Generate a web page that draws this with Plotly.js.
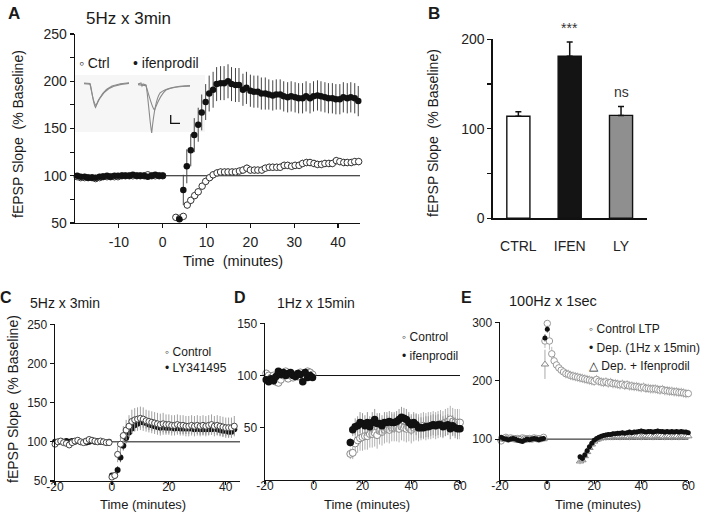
<!DOCTYPE html>
<html><head><meta charset="utf-8">
<script src="https://cdn.plot.ly/plotly-3.0.1.min.js"></script>
<style>html,body{margin:0;padding:0;background:#fff}#chart{width:705px;height:514px}</style>
</head><body><div id="chart"></div>
<script>
// ---------------- Panel A : 5Hz x 3min, Ctrl vs ifenprodil ----------------
const A_base_t = [-19.5,-18.7,-17.8,-17,-16.1,-15.3,-14.4,-13.6,-12.7,-11.9,-11,-10.2,-9.3,-8.5,-7.6,-6.8,-5.9,-5.1,-4.2,-3.4,-2.5,-1.7,-0.8,0];
const A_ctrl_base = [99,98,98,98,98,97,98,99,99,99,99,99,100,100,100,100,100,100,100,101,100,100,100,100];
const A_ifen_base = [100,99,99,98,98,98,99,99,100,99,100,100,100,100,100,101,100,100,100,99,100,101,100,100];
const A_base_err = [2,2,2,2,2,2,2,2,2,2,2,2,2,2,2,2,2,2,2,2,2,2,2,2];
const A_ctrl_t = [3,3.9,4.7,5.6,6.4,7.3,8.1,9,9.8,10.7,11.5,12.4,13.2,14.1,14.9,15.8,16.6,17.5,18.3,19.2,20,20.9,21.7,22.6,23.4,24.3,25.1,26,26.8,27.7,28.5,29.4,30.2,31.1,31.9,32.8,33.6,34.5,35.3,36.2,37,37.9,38.7,39.6,40.4,41.3,42.1,43,43.8,44.7];
const A_ctrl_v = [56,55,57,69,74,79,83,89,94,98,101,103,104,104,104,104,104,105,106,108,106,106,106,106,108,109,109,109,109,111,111,110,111,111,113,114,114,113,112,112,113,113,113,116,115,114,114,114,115,115];
const A_ctrl_e = [3,3,3,4,4,4,4,4,4,4,4,4,4,4,4,4,4,4,4,4,4,4,4,4,4,4,4,4,4,4,4,4,4,4,4,4,4,4,4,4,4,4,4,4,4,4,4,4,4,4];
const A_ifen_t = [3.8,4.7,5.5,6.4,7.2,8.1,8.9,9.8,10.6,11.5,12.3,13.2,14,14.9,15.7,16.6,17.4,18.3,19.1,20,20.8,21.7,22.5,23.4,24.2,25.1,25.9,26.8,27.6,28.5,29.3,30.2,31,31.9,32.7,33.6,34.4,35.3,36.1,37,37.8,38.7,39.5,40.4,41.2,42.1,42.9,43.8,44.6];
const A_ifen_v = [54,85,110,127,143,154,167,178,187,191,197,198,198,200,197,196,196,191,193,190,189,189,187,187,186,185,186,186,184,183,184,183,182,182,184,182,184,185,184,183,182,182,181,181,183,182,183,182,179];
const A_ifen_e = [3,16,18,17,18,18,19,19,19,19,18,18,18,18,18,18,18,17,17,17,17,17,17,17,16,16,16,16,16,16,16,16,16,16,16,16,16,16,16,16,16,16,16,16,16,16,16,16,16];
const A_xticks = [-10,0,10,20,30,40];
const A_yticks = [50,75,100,125,150,175,200,225,250];
const A_yticktext = ['50','','100','','150','','200','','250'];

// ---------------- Panel B : bar summary ----------------
const B_cats = ['CTRL','IFEN','LY'];
const B_vals = [114,181,115];
const B_err = [5,16,10];
const B_sig = ['','***','ns'];
const B_yticks = [0,50,100,150,200];
const B_yticktext = ['0','','100','','200'];

// ---------------- Panel C : 5Hz x 3min, Control vs LY341495 ----------------
const C_base_t = [-20,-19,-18,-17,-16,-15,-14,-13,-12,-11,-10,-9,-8,-7,-6,-5,-4,-3,-2,-1];
const C_ctrl_base = [97,100,101,99,98,96,99,101,102,100,99,101,103,102,101,100,101,100,99,99];
const C_ly_base = [100,100,101,100,101,100,101,100,101,100,100,99,100,101,100,101,100,100,99,100];
const C_post_t = [0,1,2,3,4,5,6,7,8,9,10,11,12,13,14,15,16,17,18,19,20,21,22,23,24,25,26,27,28,29,30,31,32,33,34,35,36,37,38,39,40,41,42,43];
const C_ctrl_post = [55,57,84,97,108,115,120,126,128,129,130,129,127,126,125,124,123,122,123,122,122,121,121,122,121,121,120,120,121,120,121,120,121,120,121,122,120,121,120,119,118,118,118,120];
const C_ly_post = [57,57,64,80,95,105,112,117,121,123,125,125,124,122,121,120,119,118,119,118,118,118,117,118,117,117,117,117,117,116,117,116,116,116,116,116,117,116,115,114,114,113,113,116];
const C_ctrl_err = [3,4,10,12,12,13,14,15,15,15,15,15,14,14,14,14,14,14,14,13,13,13,13,13,13,13,13,13,13,13,13,13,13,13,13,13,13,13,13,13,13,13,13,13];
const C_ly_err = [3,3,5,6,6,7,7,7,7,7,7,7,7,7,7,7,7,7,7,7,7,7,7,7,7,7,7,7,7,7,7,7,7,7,7,7,7,7,7,7,7,7,7,7];
const C_base_err = [3,3,3,3,3,3,3,3,3,3,3,3,3,3,3,3,3,3,3,3];
const C_xticks = [-20,0,20,40];
const C_yticks = [50,100,150,200,250];

// ---------------- Panel D : 1Hz x 15min, Control vs ifenprodil ----------------
const D_base_t = [-19.5,-18.5,-17.5,-16.5,-15.5,-14.5,-13.5,-12.5,-11.5,-10.5,-9.5,-8.5,-7.5,-6.5,-5.5,-4.5,-3.5,-2.5,-1.5,-0.5];
const D_ctrl_base = [102,100,98,100,94,93,96,100,104,97,100,98,101,99,103,100,98,104,103,101];
const D_ifen_base = [96,94,97,95,99,104,101,103,100,102,103,100,99,102,101,94,103,98,100,98];
const D_base_err = [3,3,3,3,3,3,3,3,3,3,3,3,3,3,3,3,3,3,3,3];
const D_post_t = [15,16,17,18,19,20,21,22,23,24,25,26,27,28,29,30,31,32,33,34,35,36,37,38,39,40,41,42,43,44,45,46,47,48,49,50,51,52,53,54,55,56,57,58,59,60];
const D_ctrl_post = [25,26,35,38,40,41,42,42,44,44,45,43,47,46,48,49,48,50,50,50,49,51,50,49,50,48,50,51,50,51,52,51,52,52,53,52,53,54,53,55,56,58,56,55,55,55];
const D_ifen_post = [36,48,51,52,55,54,52,55,51,55,58,54,54,52,55,55,56,55,55,56,58,60,59,58,55,53,55,53,50,50,50,51,51,52,53,52,53,53,51,52,53,49,52,50,49,49];
const D_ctrl_err = [5,6,10,12,12,13,13,13,13,13,13,13,13,13,13,13,13,13,13,13,13,13,13,13,13,13,13,13,13,13,13,13,13,13,13,13,13,13,13,13,13,13,13,13,13,13];
const D_ifen_err = [4,6,8,9,10,10,10,10,10,10,10,10,10,10,10,10,10,10,10,10,10,10,10,10,10,10,10,10,10,10,10,10,10,10,10,10,10,10,10,10,10,10,10,10,10,10];
const D_xticks = [-20,0,20,40,60];
const D_yticks = [50,100,150];

// ---------------- Panel E : 100Hz x 1sec ----------------
const E_base_t = [-19.5,-18.5,-17.5,-16.5,-15.5,-14.5,-13.5,-12.5,-11.5,-10.5,-9.5,-8.5,-7.5,-6.5,-5.5,-4.5,-3.5,-2.5,-1.5];
const E_ctrl_base = [97,101,103,100,102,101,100,101,99,102,101,100,101,100,102,101,100,101,103];
const E_dep_base = [103,101,100,99,100,101,100,98,97,96,98,100,99,100,101,100,99,100,101];
const E_ifen_base = [100,100,101,100,99,100,101,100,100,99,100,101,100,100,99,100,101,100,100];
const E_base_err = [3,3,3,3,3,3,3,3,3,3,3,3,3,3,3,3,3,3,3];
const E_ctrl_t = [-0.9,0.1,1,2,3,4,5,6,7,8,9,10,11,12,13,14,15,16,17,18,19,20,21,22,23,24,25,26,27,28,29,30,31,32,33,34,35,36,37,38,39,40,41,42,43,44,45,46,47,48,49,50,51,52,53,54,55,56,57,58,59,60];
const E_ctrl_v = [268,298,268,246,234,227,222,218,215,212,211,209,208,207,206,205,204,203,202,201,200,199,202,199,198,197,198,196,197,195,195,194,193,194,192,193,191,191,190,190,189,188,189,187,187,186,186,186,185,184,185,183,183,182,182,181,181,180,180,179,178,178];
const E_ctrl_e = [12,12,15,12,10,9,8,8,8,8,8,8,8,8,8,8,8,8,8,8,8,8,8,8,8,8,8,8,8,8,8,8,8,8,8,8,8,8,8,8,8,8,8,8,8,8,8,8,8,8,8,8,8,8,8,8,8,8,8,8,8,8];
const E_dep_t = [-0.9,0.1,14,15,16,17,18,19,20,21,22,23,24,25,26,27,28,29,30,31,32,33,34,35,36,37,38,39,40,41,42,43,44,45,46,47,48,49,50,51,52,53,54,55,56,57,58,59,60];
const E_dep_v = [273,288,70,67,73,80,87,93,98,101,103,105,106,107,108,108,109,109,110,110,111,110,111,112,111,112,112,113,114,113,112,113,113,112,113,114,113,113,112,113,112,113,112,113,112,113,112,112,111];
const E_dep_e = [6,6,4,4,4,4,4,4,4,4,4,4,4,4,4,4,4,4,4,4,4,4,4,4,4,4,4,4,4,4,4,4,4,4,4,4,4,4,4,4,4,4,4,4,4,4,4,4,4];
const E_ifen_t = [-0.9,14,15,16,17,18,19,20,21,22,23,24,25,26,27,28,29,30,31,32,33,34,35,36,37,38,39,40,41,42,43,44,45,46,47,48,49,50,51,52,53,54,55,56,57,58,59,60];
const E_ifen_v = [228,62,64,71,78,85,91,96,99,101,102,103,103,104,104,104,105,105,104,105,105,105,104,105,106,105,105,104,105,106,105,105,104,105,105,106,105,104,105,105,104,105,105,104,105,106,105,105];
const E_ifen_e = [25,5,5,6,6,6,6,6,6,6,6,6,6,6,6,6,6,6,6,6,6,6,6,6,6,6,6,6,6,6,6,6,6,6,6,6,6,6,6,6,6,6,6,6,6,6,6,6];
const E_xticks = [-20,0,20,40,60];
const E_yticks = [100,200,300];

const BASELINE = 100;

// ---------------- helpers ----------------
const W = 705, H = 514;
const FONT = 'Arial, "Liberation Sans", Helvetica, sans-serif';
const dx = (a, b) => [a / W, b / W];
const dy = (top, bottom) => [1 - bottom / H, 1 - top / H];
const lbl = arr => arr.map(v => String(v));   // plain hyphen-minus labels, as in the figure

function axis(extra, fs) {
  return Object.assign({
    showgrid: false, zeroline: false, showline: true, linecolor: '#111', linewidth: 1.4,
    ticks: 'outside', ticklen: 4, tickwidth: 1.2, tickcolor: '#111', fixedrange: true,
    tickfont: {family: FONT, size: fs || 12, color: '#222'}
  }, extra);
}
function series(xa, ya, t, v, e, mk, errColor) {
  return {
    type: 'scatter', mode: 'markers', xaxis: xa, yaxis: ya, x: t, y: v, cliponaxis: false,
    marker: mk, hoverinfo: 'skip',
    error_y: {type: 'data', array: e, visible: true, color: errColor, thickness: 1, width: 0}
  };
}
const cat = (a, b) => a.concat(b);
const openMk = (size, edge) => ({symbol: 'circle', size: size, color: '#ffffff', line: {color: edge, width: 1}});
const fillMk = (size) => ({symbol: 'circle', size: size, color: '#111111', line: {width: 0}});

const traces = [
  // A
  series('x', 'y', cat(A_base_t, A_ctrl_t), cat(A_ctrl_base, A_ctrl_v), cat(A_base_err, A_ctrl_e), openMk(6.5, '#333'), '#888'),
  series('x', 'y', cat(A_base_t, A_ifen_t), cat(A_ifen_base, A_ifen_v), cat(A_base_err, A_ifen_e), fillMk(6.5), '#444'),
  // B
  {type: 'bar', xaxis: 'x2', yaxis: 'y2', x: B_cats, y: B_vals, width: 0.45, hoverinfo: 'skip',
   marker: {color: ['#ffffff', '#141414', '#8f8f8f'], line: {color: '#111', width: 1.4}},
   error_y: {type: 'data', symmetric: false, array: B_err, arrayminus: [0, 0, 0], color: '#111', thickness: 1.5, width: 3}},
  // C
  series('x3', 'y3', cat(C_base_t, C_post_t), cat(C_ly_base, C_ly_post), cat(C_base_err, C_ly_err), fillMk(6), '#666'),
  series('x3', 'y3', cat(C_base_t, C_post_t), cat(C_ctrl_base, C_ctrl_post), cat(C_base_err, C_ctrl_err), openMk(6, '#444'), '#a0a0a0'),
  // D
  series('x4', 'y4', cat(D_base_t, D_post_t), cat(D_ctrl_base, D_ctrl_post), cat(D_base_err, D_ctrl_err), openMk(7, '#888'), '#b0b0b0'),
  series('x4', 'y4', cat(D_base_t, D_post_t), cat(D_ifen_base, D_ifen_post), cat(D_base_err, D_ifen_err), fillMk(7.5), '#999'),
  // E
  series('x5', 'y5', cat(E_base_t, E_ctrl_t), cat(E_ctrl_base, E_ctrl_v), cat(E_base_err, E_ctrl_e), openMk(6.5, '#999'), '#bbbbbb'),
  series('x5', 'y5', cat(E_base_t, E_ifen_t), cat(E_ifen_base, E_ifen_v), cat(E_base_err, E_ifen_e), {symbol: 'triangle-up', size: 6.5, color: '#ffffff', line: {color: '#888', width: 1}}, '#aaaaaa'),
  series('x5', 'y5', cat(E_base_t, E_dep_t), cat(E_dep_base, E_dep_v), cat(E_base_err, E_dep_e), fillMk(5), '#777')
];

// annotations (text only)
function ann(text, x, y, size, o) {
  return Object.assign({text: text, xref: 'paper', yref: 'paper', x: x / W, y: 1 - y / H, showarrow: false,
    xanchor: 'center', yanchor: 'middle', font: {family: FONT, size: size, color: '#1a1a1a'}}, o || {});
}
const YT = 'fEPSP Slope  (% Baseline)';
const annotations = [
  ann('<b>A</b>', 14, 13, 17), ann('<b>B</b>', 434, 13, 17), ann('<b>C</b>', 6, 297, 16),
  ann('<b>D</b>', 240, 297, 16), ann('<b>E</b>', 467, 297, 16),
  ann('5Hz x 3min', 128, 19, 17),
  ann(YT, 18, 134, 14, {textangle: -90}),
  ann('Time  (minutes)', 233, 261, 14.5),
  ann(YT, 433, 133, 14, {textangle: -90}),
  ann('5Hz x 3min', 65, 303, 14),
  ann(YT, 13, 399, 14, {textangle: -90}),
  ann('Time (minutes)', 143, 504, 13),
  ann('1Hz x 15min', 316, 303, 14),
  ann('Time (minutes)', 367, 504, 13),
  ann('100Hz x 1sec', 553, 301, 14.5),
  ann('Time (minutes)', 598, 504, 13),
  // legends
  ann('◦ Ctrl', 77, 63, 14, {xanchor: 'left'}),
  ann('• ifenprodil', 131, 63, 14, {xanchor: 'left'}),
  ann('◦ Control', 163, 352, 12, {xanchor: 'left'}),
  ann('• LY341495', 163, 368, 12, {xanchor: 'left'}),
  ann('◦ Control', 400, 337, 12, {xanchor: 'left'}),
  ann('• ifenprodil', 400, 356, 12, {xanchor: 'left'}),
  ann('◦ Control LTP', 587, 329, 12, {xanchor: 'left'}),
  ann('• Dep. (1Hz x 15min)', 587, 348, 12, {xanchor: 'left'}),
  ann('△ Dep. + Ifenprodil', 587, 366, 12, {xanchor: 'left'})
];
// significance marks in B, placed from the data
B_cats.forEach((c, i) => {
  if (B_sig[i]) annotations.push({text: B_sig[i], xref: 'x2', yref: 'y2', x: c, y: B_vals[i] + B_err[i],
    yanchor: 'bottom', yshift: 4, showarrow: false, font: {family: FONT, size: 14, color: '#333'}});
});

// baseline reference lines at 100 %
const shapes = ['', '3', '4', '5'].map(s => ({type: 'line', layer: 'below', xref: 'x' + s + ' domain', x0: 0, x1: 1,
  yref: 'y' + s, y0: BASELINE, y1: BASELINE, line: {color: '#111', width: 1}}));

// inset illustration in A (sample fEPSP traces + scale bar), pixel-space drawing
function pth(cmds) {
  return cmds.map(c => {
    const nums = c.slice(1);
    const pairs = [];
    for (let k = 0; k < nums.length; k += 2) pairs.push((nums[k] / W).toFixed(5) + ',' + (1 - nums[k + 1] / H).toFixed(5));
    return c[0] + (pairs.length ? ' ' + pairs.join(' ') : '');
  }).join(' ');
}
const inset = {
  bg: [['M', 75, 75], ['L', 205, 75], ['L', 205, 132], ['L', 75, 132], ['Z']],
  c1: [['M', 84, 83], ['L', 90, 83.5], ['C', 92, 90, 93, 104, 95.5, 107.5], ['C', 98, 100, 103, 90, 112, 86], ['C', 118, 84, 124, 83, 129, 82.7]],
  c2: [['M', 84, 83.6], ['L', 90, 84.2], ['C', 92, 92, 93, 103, 96, 105.5], ['C', 99, 99, 104, 89, 113, 86.6], ['C', 119, 84.6, 125, 83.6, 129, 83.4]],
  i1: [['M', 138, 84], ['L', 141, 83], ['L', 142, 86], ['L', 143, 84], ['L', 146, 85], ['C', 148, 95, 150, 125, 151.7, 133], ['C', 153, 120, 155, 100, 160, 93], ['C', 166, 88, 176, 86, 190, 85.5]],
  i2: [['M', 138, 84.6], ['L', 146, 85.6], ['C', 149, 95, 152, 108, 154.5, 110], ['C', 157, 104, 160, 95, 166, 90], ['C', 172, 87, 180, 86.5, 190, 86.3]],
  sb: [['M', 170.7, 115], ['L', 170.7, 123.3], ['L', 180, 123.3]]
};
shapes.push({type: 'path', layer: 'below', xref: 'paper', yref: 'paper', path: pth(inset.bg), fillcolor: '#f6f6f6', line: {width: 0}});
['c1', 'c2', 'i1', 'i2'].forEach(k => shapes.push({type: 'path', xref: 'paper', yref: 'paper', path: pth(inset[k]), line: {color: '#8a8a8a', width: 1.1}}));
shapes.push({type: 'path', xref: 'paper', yref: 'paper', path: pth(inset.sb), line: {color: '#111', width: 1.3}});

const layout = {
  width: W, height: H, margin: {l: 0, r: 0, t: 0, b: 0}, paper_bgcolor: '#ffffff', plot_bgcolor: 'rgba(0,0,0,0)',
  showlegend: false, font: {family: FONT, color: '#222'}, bargap: 0,
  xaxis: axis({domain: dx(75, 360), range: [-20, 45], tickvals: A_xticks, ticktext: lbl(A_xticks), anchor: 'y', ticklabelstandoff: 2}, 14),
  yaxis: axis({domain: dy(34, 223), range: [50, 250], tickvals: A_yticks, ticktext: A_yticktext, anchor: 'x'}, 14),
  xaxis2: axis({domain: dx(492.7, 646.7), type: 'category', categoryorder: 'array', categoryarray: B_cats, range: [-0.5, 2.5], ticks: '', anchor: 'y2', ticklabelstandoff: 14}, 14),
  yaxis2: axis({domain: dy(39.3, 218.3), range: [0, 200], tickvals: B_yticks, ticktext: B_yticktext, anchor: 'x2'}, 14),
  xaxis3: axis({domain: dx(55, 240), range: [-20, 45], tickvals: C_xticks, ticktext: lbl(C_xticks), anchor: 'y3', ticklen: 3, ticklabelstandoff: -9}, 12),
  yaxis3: axis({domain: dy(324.3, 481), range: [50, 250], tickvals: C_yticks, anchor: 'x3'}, 12),
  xaxis4: axis({domain: dx(265, 460), range: [-20, 60], tickvals: D_xticks, ticktext: lbl(D_xticks), anchor: 'y4', ticklen: 3, ticklabelstandoff: -9}, 12),
  yaxis4: axis({domain: dy(323.3, 480), range: [0, 150], tickvals: D_yticks, anchor: 'x4'}, 12),
  xaxis5: axis({domain: dx(500, 688.3), range: [-20, 60], tickvals: E_xticks, ticktext: lbl(E_xticks), anchor: 'y5', ticklen: 3, ticklabelstandoff: -9}, 12),
  yaxis5: axis({domain: dy(322.3, 480), range: [30, 300], tickvals: E_yticks, anchor: 'x5'}, 12),
  annotations: annotations, shapes: shapes
};
Plotly.newPlot('chart', traces, layout, {displayModeBar: false, staticPlot: true});
</script></body></html>
